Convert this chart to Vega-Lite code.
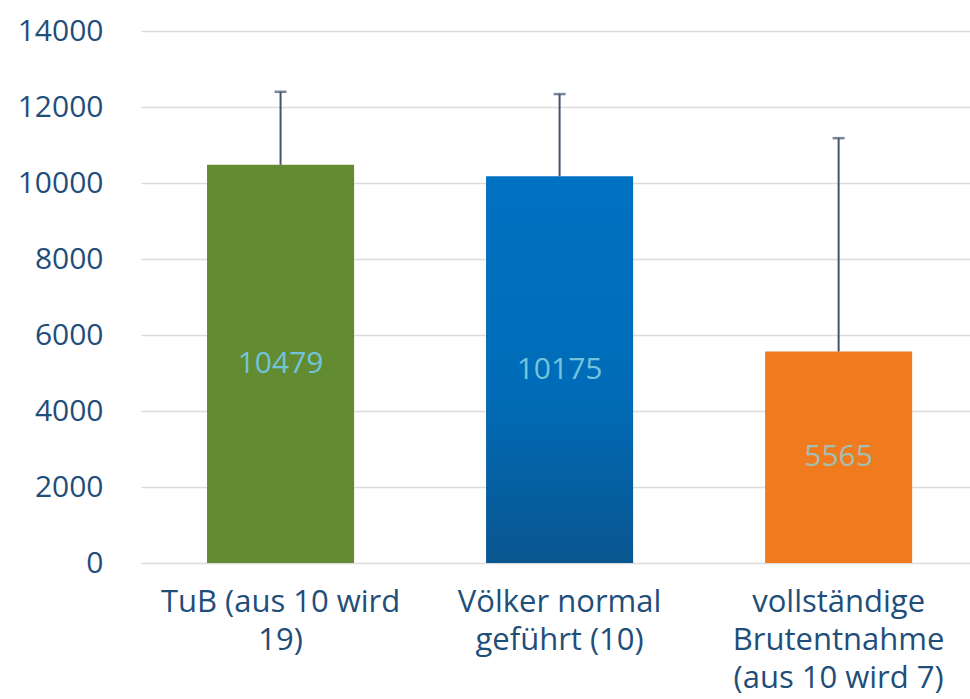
{
  "$schema": "https://vega.github.io/schema/vega-lite/v6.json",
  "width": 829,
  "height": 532,
  "autosize": {"type": "none"},
  "padding": {"left": 141, "top": 31, "right": 0, "bottom": 136},
  "background": "white",
  "config": {"view": {"stroke": null}},
  "data": {
    "values": [
      {"cat": "TuB (aus 10 wird\n19)", "value": 10479, "upper": 12400},
      {"cat": "Völker normal\ngeführt (10)", "value": 10175, "upper": 12340},
      {"cat": "vollständige\nBrutentnahme\n(aus 10 wird 7)", "value": 5565, "upper": 11180}
    ]
  },
  "encoding": {
    "x": {
      "field": "cat",
      "type": "nominal",
      "sort": null,
      "scale": {"paddingInner": 0.473, "paddingOuter": 0.222, "align": 0.533},
      "axis": {
        "title": null,
        "labelAngle": 0,
        "labelExpr": "split(datum.label, '\\n')",
        "labelFont": "Open Sans",
        "labelFontSize": 31,
        "labelFontWeight": 500,
        "labelColor": "#1f4e79",
        "labelLineHeight": 38,
        "labelPadding": 24,
        "labelLimit": 400,
        "ticks": false,
        "domain": false,
        "grid": false
      }
    }
  },
  "layer": [
    {
      "mark": {"type": "bar"},
      "encoding": {
        "y": {
          "field": "value",
          "type": "quantitative",
          "scale": {"domain": [0, 14000], "nice": false},
          "axis": {
            "title": null,
            "values": [0, 2000, 4000, 6000, 8000, 10000, 12000, 14000],
            "format": "d",
            "labelFont": "Open Sans",
            "labelFontSize": 30,
            "labelFontWeight": 500,
            "labelColor": "#1f4e79",
            "labelPadding": 38,
            "ticks": false,
            "domain": false,
            "gridColor": "#dcdcdc",
            "gridWidth": 1.5
          }
        },
        "color": {
          "condition": [
            {"test": "datum.value == 10479", "value": "#628b32"},
            {"test": "datum.value == 10175", "value": {
              "gradient": "linear", "x1": 0, "y1": 0, "x2": 0, "y2": 1,
              "stops": [
                {"offset": 0, "color": "#0072c2"},
                {"offset": 0.55, "color": "#006cb8"},
                {"offset": 1, "color": "#0a5690"}
              ]
            }}
          ],
          "value": "#f07b1f"
        }
      }
    },
    {
      "mark": {"type": "rule", "color": "#44546a", "strokeWidth": 2},
      "encoding": {
        "y": {"field": "value", "type": "quantitative"},
        "y2": {"field": "upper"}
      }
    },
    {
      "mark": {"type": "tick", "color": "#44546a", "thickness": 2.5, "size": 12},
      "encoding": {
        "y": {"field": "upper", "type": "quantitative"}
      }
    },
    {
      "mark": {"type": "text", "font": "Open Sans", "fontSize": 30, "baseline": "middle"},
      "transform": [{"calculate": "datum.value / 2", "as": "mid"}],
      "encoding": {
        "y": {"field": "mid", "type": "quantitative"},
        "text": {"field": "value", "type": "quantitative", "format": "d"},
        "color": {
          "condition": {"test": "datum.value == 5565", "value": "#a6beaf"},
          "value": "#72c4dc"
        }
      }
    }
  ]
}
